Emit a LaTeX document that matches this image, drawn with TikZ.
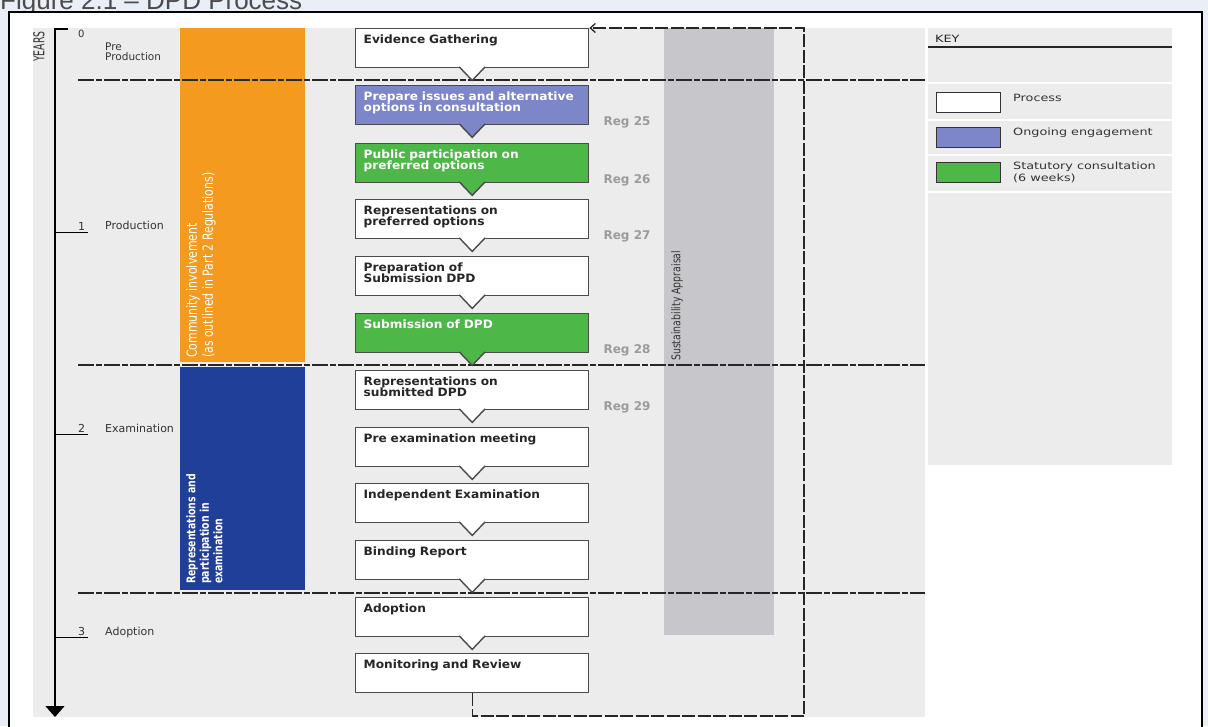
\documentclass[tikz,border=0pt]{standalone}
\usepackage{fontspec}
\setmainfont{DejaVu Sans}
\newfontfamily\boxfont[FakeStretch=1.06]{DejaVu Sans}
\newfontfamily\keyfont[FakeStretch=1.28]{DejaVu Sans}
\newfontfamily\narrowfont[FakeStretch=0.78]{DejaVu Sans}
\newfontfamily\slimfont[FakeStretch=0.62]{DejaVu Sans}
\newfontfamily\titlefont{Liberation Sans}
\usetikzlibrary{arrows.meta}

\definecolor{outerbg}{HTML}{EAEEF7}
\definecolor{panelgrey}{HTML}{ECECEC}
\definecolor{sagrey}{HTML}{C7C7CB}
\definecolor{cimorange}{HTML}{F49B1F}
\definecolor{exblue}{HTML}{1F3F98}
\definecolor{ongoing}{HTML}{7C86C8}
\definecolor{statgreen}{HTML}{4DB848}
\definecolor{reggrey}{HTML}{9B9B9B}
\definecolor{edge}{HTML}{4A4A4A}

\tikzset{
  proc/.style={draw=edge, line width=1.4pt, fill=white, anchor=north west,
    minimum width=233pt, minimum height=39pt, inner xsep=8pt, inner ysep=6pt,
    text width=217pt, text height=8.5pt, text depth=18.5pt, align=left,
    font=\boxfont\bfseries\fontsize{11.5}{11.5}\selectfont, text=black!85},
  ptr/.style={draw=edge, line width=1.4pt, line join=miter},
  reglbl/.style={anchor=base west, inner sep=0pt, text=reggrey,
    font=\bfseries\fontsize{12}{12}\selectfont},
  sepline/.style={line width=1.1pt, black!85, dash pattern=on 16pt off 2pt on 6pt off 2pt},
  loopline/.style={line width=1.3pt, black!85, dash pattern=on 13pt off 2.5pt},
  axislbl/.style={anchor=base west, inner sep=0pt, text=black!80,
    font=\fontsize{11}{10}\selectfont},
  keybox/.style={draw=black!80, line width=1.3pt, anchor=north west, fill=white,
    minimum width=64pt, minimum height=20pt, inner sep=0pt},
  keytxt/.style={anchor=base west, inner sep=0pt, text=black!80, align=left,
    font=\keyfont\fontsize{10}{12}\selectfont}
}

\begin{document}
\begin{tikzpicture}[x=1pt,y=-1pt]
\useasboundingbox (0,0) rectangle (1208,726);
\fill[outerbg] (0,0) rectangle (1208,726);
\node[anchor=base west, inner sep=0pt, text=black!70,
  font=\titlefont\fontsize{26}{26}\selectfont] (title) at (0,9) {Figure 2.1 – DPD Process};
\draw[line width=2.5pt, fill=white] (9,12) rectangle (1202,760);

% panels and bars
\fill[panelgrey] (33,28) rectangle (925,717);
\fill[panelgrey] (928,28) rectangle (1172,465);
\fill[sagrey] (664,28) rectangle (774,635);
\fill[cimorange] (180,28) rectangle (305,362);
\fill[exblue] (180,367) rectangle (305,590);

\node[rotate=90, anchor=north west, align=left, text=white, inner sep=0pt,
  font=\narrowfont\fontsize{14}{16}\selectfont] (cilabel) at (186,358)
  {Community involvement\\(as outlined in Part 2 Regulations)};
\node[rotate=90, anchor=north west, align=left, text=white, inner sep=0pt,
  font=\narrowfont\bfseries\fontsize{12}{13.5}\selectfont] (exlabel) at (186,584)
  {Representations and\\participation in\\examination};
\node[rotate=90, anchor=north west, inner sep=0pt, text=black!80,
  font=\narrowfont\fontsize{12}{12}\selectfont] (salabel) at (671,361) {Sustainability Appraisal};

% years axis
\draw[line width=1.3pt, -{Triangle[width=19pt,length=11pt]}] (68,29) -- (55,29) -- (55,717);
\node[rotate=90, anchor=north west, inner sep=0pt, text=black!80,
  font=\slimfont\fontsize{15}{15}\selectfont] (years) at (33,62) {YEARS};
\draw[line width=1pt] (55,232) -- (88,232);
\draw[line width=1pt] (55,434) -- (88,434);
\draw[line width=1pt] (55,637) -- (88,637);
\node[axislbl, font=\fontsize{10}{10}\selectfont] (y0) at (78,37) {0};
\node[axislbl] (y1) at (78,230) {1};
\node[axislbl] (y2) at (78,432) {2};
\node[axislbl] (y3) at (78,635) {3};
\node[anchor=north west, inner sep=0pt, align=left, text=black!80,
  font=\fontsize{10.5}{10}\selectfont] (preprod) at (105,43) {Pre\\Production};
\node[axislbl] (prod) at (105,229) {Production};
\node[axislbl] (exam) at (105,432) {Examination};
\node[axislbl] (adopt) at (105,635) {Adoption};

% phase lines
\draw[sepline] (78,80) -- (925,80);
\draw[sepline] (78,365) -- (925,365);
\draw[sepline] (78,593) -- (925,593);

% feedback loop
\coordinate (lpbr) at (804,716);

% process boxes
\node[proc] (eg) at (355,28) {Evidence Gathering};
\node[proc, fill=ongoing, text=white] (pi) at (355,85) {Prepare issues and alternative\\options in consultation};
\node[proc, fill=statgreen, text=white] (pp) at (355,143) {Public participation on\\preferred options};
\node[proc] (rp) at (355,199) {Representations on\\preferred options};
\node[proc] (ps) at (355,256) {Preparation of\\Submission DPD};
\node[proc, fill=statgreen, text=white] (sd) at (355,313) {Submission of DPD};
\node[proc] (rs) at (355,370) {Representations on\\submitted DPD};
\node[proc] (pe) at (355,427) {Pre examination meeting};
\node[proc] (ie) at (355,483) {Independent Examination};
\node[proc] (br) at (355,540) {Binding Report};
\node[proc] (ad) at (355,597) {Adoption};
\node[proc] (mr) at (355,653) {Monitoring and Review};

\filldraw[ptr, fill=white] ([xshift=-13pt,yshift=1.6pt]eg.south) -- ([yshift=-12pt]eg.south) -- ([xshift=13pt,yshift=1.6pt]eg.south);
\filldraw[ptr, fill=ongoing] ([xshift=-13pt,yshift=1.6pt]pi.south) -- ([yshift=-12pt]pi.south) -- ([xshift=13pt,yshift=1.6pt]pi.south);
\filldraw[ptr, fill=statgreen] ([xshift=-13pt,yshift=1.6pt]pp.south) -- ([yshift=-12pt]pp.south) -- ([xshift=13pt,yshift=1.6pt]pp.south);
\filldraw[ptr, fill=white] ([xshift=-13pt,yshift=1.6pt]rp.south) -- ([yshift=-12pt]rp.south) -- ([xshift=13pt,yshift=1.6pt]rp.south);
\filldraw[ptr, fill=white] ([xshift=-13pt,yshift=1.6pt]ps.south) -- ([yshift=-12pt]ps.south) -- ([xshift=13pt,yshift=1.6pt]ps.south);
\filldraw[ptr, fill=statgreen] ([xshift=-13pt,yshift=1.6pt]sd.south) -- ([yshift=-12pt]sd.south) -- ([xshift=13pt,yshift=1.6pt]sd.south);
\filldraw[ptr, fill=white] ([xshift=-13pt,yshift=1.6pt]rs.south) -- ([yshift=-12pt]rs.south) -- ([xshift=13pt,yshift=1.6pt]rs.south);
\filldraw[ptr, fill=white] ([xshift=-13pt,yshift=1.6pt]pe.south) -- ([yshift=-12pt]pe.south) -- ([xshift=13pt,yshift=1.6pt]pe.south);
\filldraw[ptr, fill=white] ([xshift=-13pt,yshift=1.6pt]ie.south) -- ([yshift=-12pt]ie.south) -- ([xshift=13pt,yshift=1.6pt]ie.south);
\filldraw[ptr, fill=white] ([xshift=-13pt,yshift=1.6pt]br.south) -- ([yshift=-12pt]br.south) -- ([xshift=13pt,yshift=1.6pt]br.south);
\filldraw[ptr, fill=white] ([xshift=-13pt,yshift=1.6pt]ad.south) -- ([yshift=-12pt]ad.south) -- ([xshift=13pt,yshift=1.6pt]ad.south);

\draw[loopline, -{Straight Barb[length=5pt,width=9pt]}] (mr.south) |- (lpbr) |- (eg.north east);

% regulations
\node[reglbl] (r25) at ([xshift=14pt]pi.south east) {Reg 25};
\node[reglbl] (r26) at ([xshift=14pt]pp.south east) {Reg 26};
\node[reglbl] (r27) at ([xshift=14pt]rp.south east) {Reg 27};
\node[reglbl] (r28) at ([xshift=14pt]sd.south east) {Reg 28};
\node[reglbl] (r29) at ([xshift=14pt]rs.south east) {Reg 29};

% key
\node[anchor=base west, inner sep=0pt, text=black!85,
  font=\keyfont\fontsize{10}{10}\selectfont] (keyhead) at (935,42) {KEY};
\draw[line width=1.2pt, black!85] (928,47) -- (1172,47);
\draw[white, line width=1.5pt] (928,83) -- (1172,83);
\draw[white, line width=1.5pt] (928,120) -- (1172,120);
\draw[white, line width=1.5pt] (928,155) -- (1172,155);
\draw[white, line width=1.5pt] (928,192) -- (1172,192);
\node[keybox] (kproc) at (936,92) {};
\node[keybox, fill=ongoing] (kong) at (936,127) {};
\node[keybox, fill=statgreen] (kstat) at (936,162) {};
\node[keytxt] (tproc) at (1013,101) {Process};
\node[keytxt] (tong) at (1013,135) {Ongoing engagement};
\node[keytxt, anchor=north west] (tstat) at (1013,162) {Statutory consultation\\(6 weeks)};
\end{tikzpicture}
\end{document}
